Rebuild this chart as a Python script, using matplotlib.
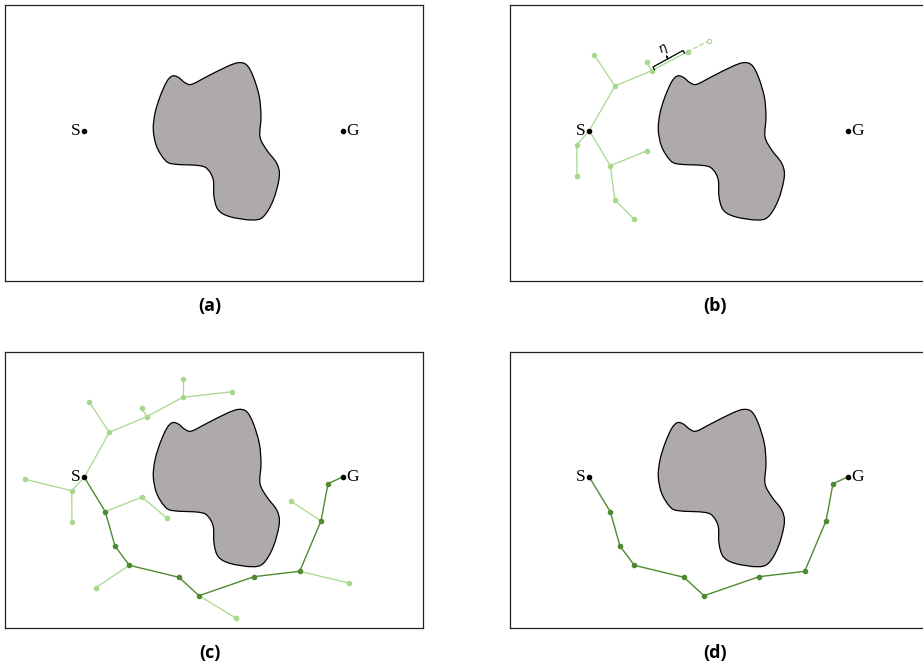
import numpy as np
import matplotlib.pyplot as plt
from matplotlib.path import Path
from matplotlib.patches import PathPatch

# all coordinates in panel-local pixel units (origin at top-left of each frame)
PANEL_W, PANEL_H = 418, 276

LIGHT = '#a7d88d'
DARK = '#4f8a30'
OBST_FACE = '#aeaaa9'

start = (79.3, 125.7)
goal = (338.3, 125.7)

obstacle_x = [167.3, 161.7, 155.0, 150.0, 148.3, 151.7, 160.0, 168.3, 195.0, 203.3,
              208.3, 209.0, 213.3, 225.0, 246.7, 258.3, 268.3, 274.3, 271.7, 261.7,
              255.0, 256.0, 254.3, 248.3, 241.7, 233.3, 221.7, 201.7, 186.7, 180.0, 173.3]
obstacle_y = [71.0, 76.7, 91.7, 108.3, 125.0, 141.7, 155.0, 159.0, 160.7, 165.0,
              175.0, 191.7, 205.0, 211.7, 215.0, 211.7, 195.0, 171.7, 158.3, 145.0,
              131.7, 111.7, 91.7, 71.7, 60.0, 57.7, 61.7, 71.7, 79.3, 77.7, 72.3]

# panel (b): early tree, edges as (parent, child)
b_nodes = {
    'S': start, 'A': (105.0, 81.0), 'B': (84.3, 50.0), 'C': (141.7, 65.7),
    'D': (136.7, 57.3), 'E': (177.7, 46.7), 'H': (66.7, 140.0), 'I': (67.0, 170.7),
    'J': (100.3, 160.7), 'K': (137.3, 145.7), 'L': (105.0, 195.0), 'M': (124.0, 214.0),
}
b_edges = [('S', 'A'), ('A', 'B'), ('A', 'C'), ('C', 'D'), ('C', 'E'), ('S', 'H'),
           ('H', 'I'), ('S', 'J'), ('J', 'K'), ('J', 'L'), ('L', 'M')]
b_new = (199.0, 35.7)          # sampled point, dashed extension from E
eta_bracket = [(143.0, 62.0), (173.0, 45.5)]
eta_pos = (153.5, 45.0)

# panel (c): full tree
c_nodes = {
    'S': start, 'A': (104.3, 80.6), 'B': (84.0, 50.0), 'C': (141.7, 65.0),
    'D': (136.7, 56.6), 'E': (177.7, 45.6), 'E2': (177.7, 27.3), 'E3': (227.3, 40.0),
    'H': (66.7, 139.0), 'H2': (20.0, 127.6), 'I': (67.0, 170.0),
    'J': (100.3, 160.0), 'K': (137.0, 145.3), 'K2': (161.7, 166.3),
    'P3': (124.3, 213.6), 'L1': (90.7, 236.0), 'P5': (194.0, 244.0), 'L2': (231.3, 266.6),
    'P7': (294.7, 219.6), 'L3': (343.7, 231.3), 'P8': (316.0, 169.3), 'L4': (286.0, 149.6),
}
c_edges = [('S', 'A'), ('A', 'B'), ('A', 'C'), ('C', 'D'), ('C', 'E'), ('E', 'E2'),
           ('E', 'E3'), ('S', 'H'), ('H', 'H2'), ('H', 'I'), ('J', 'K'), ('K', 'K2'),
           ('P3', 'L1'), ('P5', 'L2'), ('P7', 'L3'), ('P8', 'L4')]

# final path S -> G
path_x = [79.0, 100.3, 110.0, 124.3, 174.0, 194.0, 249.0, 294.7, 316.0, 323.0, 338.3]
path_y = [125.0, 160.0, 194.3, 213.6, 225.6, 244.0, 225.0, 219.6, 169.3, 132.0, 125.0]

captions = ['(a)', '(b)', '(c)', '(d)']
# frame top-left corners in figure pixels
frame_x = [5, 510, 5, 510]
frame_y = [5, 5, 351.7, 351.7]

FIG_W, FIG_H = 923, 664
fig = plt.figure(figsize=(FIG_W / 100, FIG_H / 100), dpi=100)


def smooth_closed(xs, ys):
    pts = np.column_stack([xs, ys])
    n = len(pts)
    verts = [pts[0]]
    codes = [Path.MOVETO]
    for i in range(n):
        p0, p1, p2, p3 = pts[i - 1], pts[i], pts[(i + 1) % n], pts[(i + 2) % n]
        verts += [p1 + (p2 - p0) / 6, p2 - (p3 - p1) / 6, p2]
        codes += [Path.CURVE4] * 3
    verts.append(pts[0])
    codes.append(Path.CLOSEPOLY)
    return Path(verts, codes)


def base_panel(k):
    left = frame_x[k] / FIG_W
    bottom = 1 - (frame_y[k] + PANEL_H) / FIG_H
    ax = fig.add_axes([left, bottom, PANEL_W / FIG_W, PANEL_H / FIG_H])
    ax.set_xlim(0, PANEL_W)
    ax.set_ylim(PANEL_H, 0)
    ax.set_xticks([])
    ax.set_yticks([])
    for sp in ax.spines.values():
        sp.set_linewidth(0.9)
        sp.set_color('#222222')
    ax.add_patch(PathPatch(smooth_closed(obstacle_x, obstacle_y), facecolor=OBST_FACE,
                           edgecolor='black', lw=0.9, zorder=2))
    fig.text((frame_x[k] + PANEL_W / 2 - 4) / FIG_W, 1 - (frame_y[k] + PANEL_H + 25) / FIG_H,
             captions[k], ha='center', va='center', fontsize=13, fontweight='bold',
             family='Open Sans')
    return ax


def draw_sg(ax):
    ax.plot(*start, 'o', color='black', ms=3, zorder=5)
    ax.plot(*goal, 'o', color='black', ms=3, zorder=5)
    ax.text(start[0] - 4, start[1], 'S', ha='right', va='center', fontsize=12.5,
            family='Liberation Serif')
    ax.text(goal[0] + 3, goal[1], 'G', ha='left', va='center', fontsize=12.5,
            family='Liberation Serif')


def draw_tree(ax, nodes, edges):
    for p, c in edges:
        (x0, y0), (x1, y1) = nodes[p], nodes[c]
        ax.plot([x0, x1], [y0, y1], '-', color=LIGHT, lw=0.9, zorder=3)
        ax.plot(x1, y1, 'o', color=LIGHT, ms=3, zorder=3)


# (a)
ax = base_panel(0)
draw_sg(ax)

# (b)
ax = base_panel(1)
draw_tree(ax, b_nodes, b_edges)
ex, ey = b_nodes['E']
ax.plot([ex, b_new[0]], [ey, b_new[1]], '--', color=LIGHT, lw=0.9, zorder=3)
ax.plot(*b_new, 'o', mfc='white', mec=LIGHT, ms=3, mew=0.8, zorder=3)
(bx0, by0), (bx1, by1) = eta_bracket
d = np.array([bx1 - bx0, by1 - by0])
d = d / np.hypot(*d)
nrm = np.array([d[1], -d[0]])   # pointing up/away from edge
p0 = np.array([bx0, by0])
p1 = np.array([bx1, by1])
pm = (p0 + p1) / 2
br = np.array([p0 - 3 * nrm, p0, pm, pm + 3 * nrm, pm, p1, p1 - 3 * nrm])
ax.plot(br[:, 0], br[:, 1], '-', color='black', lw=0.9, zorder=4)
ang = np.degrees(np.arctan2(-(by1 - by0), bx1 - bx0))
ax.text(*eta_pos, r'$\eta$', fontsize=9, rotation=ang, ha='center', va='center')
draw_sg(ax)

# (c)
ax = base_panel(2)
draw_tree(ax, c_nodes, c_edges)
ax.plot(path_x, path_y, '-', color=DARK, lw=1.0, zorder=4)
ax.plot(path_x[1:-1], path_y[1:-1], 'o', color=DARK, ms=3, zorder=4)
draw_sg(ax)

# (d)
ax = base_panel(3)
ax.plot(path_x, path_y, '-', color=DARK, lw=1.0, zorder=4)
ax.plot(path_x[1:-1], path_y[1:-1], 'o', color=DARK, ms=3, zorder=4)
draw_sg(ax)

plt.savefig('out.png', dpi=100)
